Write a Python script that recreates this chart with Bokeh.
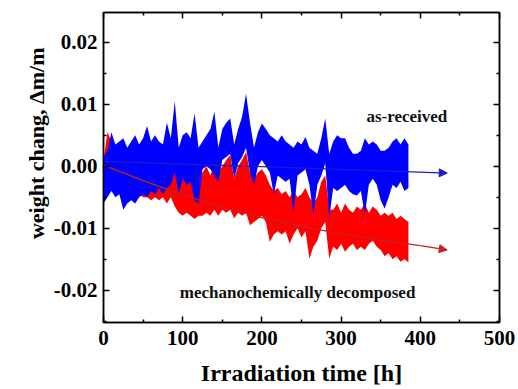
from bokeh.plotting import figure
from bokeh.models import (Arrow, NormalHead, Label, LinearAxis, FixedTicker, Title,
                          ColumnDataSource, Range1d)
from bokeh.embed import file_html
from bokeh.resources import INLINE

# ---------------- data ----------------
time_h = list(range(0, 390, 5))

blue_hi = [0.0015, 0.0025, 0.0055, 0.0035, 0.0040, 0.0045, 0.0030, 0.0040, 0.0050, 0.0035,
           0.0045, 0.0065, 0.0040, 0.0050, 0.0040, 0.0035, 0.0070, 0.0045, 0.0105, 0.0030,
           0.0050, 0.0055, 0.0045, 0.0085, 0.0030, 0.0040, 0.0050, 0.0060, 0.0088, 0.0030,
           0.0060, 0.0070, 0.0077, 0.0035, 0.0060, 0.0080, 0.0117, 0.0070, 0.0030, 0.0055,
           0.0069, 0.0060, 0.0050, 0.0045, 0.0040, 0.0050, 0.0040, 0.0035, 0.0030, 0.0040,
           0.0035, 0.0047, 0.0030, 0.0025, 0.0020, 0.0045, 0.0077, 0.0020, 0.0040, 0.0050,
           0.0045, 0.0045, 0.0030, 0.0020, 0.0020, 0.0025, 0.0045, 0.0035, 0.0040, 0.0035,
           0.0025, 0.0025, 0.0030, 0.0040, 0.0045, 0.0035, 0.0045, 0.0035]
blue_lo = [-0.0060, -0.0050, -0.0040, -0.0050, -0.0045, -0.0070, -0.0060, -0.0055, -0.0060, -0.0050,
           -0.0045, -0.0050, -0.0040, -0.0045, -0.0035, -0.0045, -0.0035, -0.0030, -0.0010, -0.0045,
           -0.0020, -0.0030, -0.0025, -0.0055, -0.0060, -0.0005, 0.0000, -0.0005, -0.0015, -0.0025,
           0.0010, 0.0015, 0.0020, -0.0020, 0.0005, 0.0015, 0.0030, -0.0010, -0.0030, 0.0000,
           0.0010, 0.0000, -0.0010, -0.0045, -0.0015, -0.0020, -0.0025, -0.0020, -0.0074, -0.0015,
           -0.0010, -0.0005, -0.0030, -0.0079, -0.0030, -0.0015, 0.0005, -0.0084, -0.0035, -0.0040,
           -0.0035, -0.0030, -0.0040, -0.0045, -0.0047, -0.0040, -0.0079, -0.0030, -0.0020, -0.0030,
           -0.0055, -0.0068, -0.0050, -0.0030, -0.0035, -0.0025, -0.0040, -0.0035]

red_hi = [0.0010, 0.0055, 0.0040, 0.0010, 0.0005, 0.0030, 0.0000, 0.0010, -0.0005, 0.0020,
          -0.0010, 0.0000, -0.0015, 0.0025, -0.0015, -0.0020, 0.0015, -0.0020, 0.0005, -0.0020,
          -0.0020, -0.0025, -0.0020, -0.0015, -0.0030, -0.0010, 0.0000, -0.0015, 0.0005, -0.0010,
          0.0000, 0.0010, 0.0018, -0.0020, 0.0000, 0.0010, 0.0023, -0.0010, -0.0020, -0.0010,
          -0.0005, -0.0015, -0.0030, -0.0040, -0.0035, -0.0045, -0.0040, -0.0050, -0.0040, -0.0050,
          -0.0045, -0.0035, -0.0050, -0.0060, -0.0050, -0.0025, -0.0015, -0.0070, -0.0070, -0.0060,
          -0.0075, -0.0060, -0.0070, -0.0075, -0.0065, -0.0070, -0.0060, -0.0075, -0.0065, -0.0070,
          -0.0080, -0.0075, -0.0080, -0.0075, -0.0085, -0.0080, -0.0085, -0.0090]
red_lo = [-0.0030, -0.0035, -0.0035, -0.0030, -0.0040, -0.0035, -0.0040, -0.0045, -0.0040, -0.0045,
          -0.0050, -0.0050, -0.0055, -0.0050, -0.0055, -0.0050, -0.0060, -0.0050, -0.0065, -0.0075,
          -0.0080, -0.0075, -0.0080, -0.0085, -0.0080, -0.0080, -0.0075, -0.0080, -0.0070, -0.0080,
          -0.0070, -0.0075, -0.0070, -0.0084, -0.0075, -0.0080, -0.0075, -0.0095, -0.0090, -0.0085,
          -0.0080, -0.0090, -0.0122, -0.0110, -0.0105, -0.0110, -0.0105, -0.0125, -0.0110, -0.0100,
          -0.0115, -0.0105, -0.0149, -0.0130, -0.0120, -0.0100, -0.0090, -0.0149, -0.0130, -0.0135,
          -0.0125, -0.0138, -0.0130, -0.0125, -0.0135, -0.0130, -0.0135, -0.0125, -0.0120, -0.0130,
          -0.0135, -0.0145, -0.0140, -0.0150, -0.0145, -0.0154, -0.0150, -0.0155]

blue_trend_x = [0, 434]
blue_trend_y = [0.0008, -0.0011]
red_trend_x = [0, 50, 100, 150, 200, 250, 300, 350, 400, 434]
red_trend_y = [0.0002, -0.0023, -0.0046, -0.0066, -0.0083, -0.0097, -0.0109, -0.0119, -0.0128, -0.0135]

x_ticks = [0, 100, 200, 300, 400, 500]
x_minor = [50, 150, 250, 350, 450]
y_ticks = [-0.02, -0.01, 0.0, 0.01, 0.02]
y_minor = [-0.025, -0.015, -0.005, 0.005, 0.015]
y_tick_labels = ["-0.02", "-0.01", "0.00", "0.01", "0.02"]

x_label = "Irradiation time [h]"
y_label = "weight chang, \u0394m/m"
label_blue = "as-received"
label_red = "mechanochemically decomposed"

FONT = "Liberation Serif"
BLUE = "#0000ff"
RED = "#ff0000"

# ---------------- figure ----------------
p = figure(width=518, height=389, x_range=Range1d(0, 500), y_range=Range1d(-0.0252, 0.0248),
           output_backend="svg", toolbar_location=None,
           min_border_left=103, min_border_right=19, min_border_top=12, min_border_bottom=67)
p.grid.visible = False
p.outline_line_color = "black"
p.outline_line_width = 1.5
p.background_fill_color = "white"
p.border_fill_color = "white"

src = ColumnDataSource(dict(t=time_h, bh=blue_hi, bl=blue_lo, rh=red_hi, rl=red_lo))
p.varea(x="t", y1="rl", y2="rh", source=src, fill_color=RED)
p.varea(x="t", y1="bl", y2="bh", source=src, fill_color=BLUE)

# trend lines with arrows
p.line(red_trend_x[:-1], red_trend_y[:-1], line_color="#c02424", line_width=1.3)
p.add_layout(Arrow(x_start=red_trend_x[-2], y_start=red_trend_y[-2],
                   x_end=red_trend_x[-1], y_end=red_trend_y[-1],
                   line_color="#c02424", line_width=1.3,
                   end=NormalHead(size=8, fill_color="#c02424", line_color="#c02424")))
p.add_layout(Arrow(x_start=blue_trend_x[0], y_start=blue_trend_y[0],
                   x_end=blue_trend_x[1], y_end=blue_trend_y[1],
                   line_color="#1e1ebe", line_width=1.3,
                   end=NormalHead(size=8, fill_color="#1e1ebe", line_color="#1e1ebe")))

p.add_layout(Label(x=383, y=0.0080, text=label_blue, text_align="center", text_baseline="middle",
                   text_font=FONT, text_font_style="bold", text_font_size="17px", text_color="#111111"))
p.add_layout(Label(x=245, y=-0.0203, text=label_red, text_align="center", text_baseline="middle",
                   text_font=FONT, text_font_style="bold", text_font_size="17px", text_color="#111111"))


def style(ax):
    ax.axis_line_color = "black"
    ax.axis_line_width = 1.5
    ax.major_tick_in = 6
    ax.major_tick_out = 0
    ax.minor_tick_in = 3
    ax.minor_tick_out = 0
    ax.major_tick_line_width = 1.5
    ax.minor_tick_line_width = 1.5
    ax.major_tick_line_color = "black"
    ax.minor_tick_line_color = "black"
    ax.major_label_text_font = FONT
    ax.major_label_text_font_style = "bold"
    ax.major_label_text_font_size = "21px"
    ax.major_label_text_color = "black"


xa = p.xaxis[0]
style(xa)
xa.ticker = FixedTicker(ticks=x_ticks, minor_ticks=x_minor)
xa.major_label_standoff = 8
xa.axis_label = x_label
xa.axis_label_text_font = FONT
xa.axis_label_text_font_style = "bold"
xa.axis_label_text_font_size = "24px"
xa.axis_label_text_color = "black"
xa.axis_label_standoff = 12

ya = p.yaxis[0]
style(ya)
ya.ticker = FixedTicker(ticks=y_ticks, minor_ticks=y_minor)
ya.major_label_overrides = dict(zip(y_ticks, y_tick_labels))
ya.major_label_standoff = 6

for side, ticker in (("above", FixedTicker(ticks=x_ticks, minor_ticks=x_minor)),
                     ("right", FixedTicker(ticks=y_ticks, minor_ticks=y_minor))):
    ax = LinearAxis(ticker=ticker)
    style(ax)
    ax.major_label_text_font_size = "0px"
    ax.major_label_text_color = None
    ax.major_label_standoff = 0
    p.add_layout(ax, side)

p.add_layout(Title(text=y_label, align="right", offset=35, text_font=FONT,
                   text_font_style="bold", text_font_size="22px", text_color="black",
                   standoff=4), "left")

open("out.html", "w").write(file_html(p, INLINE))
